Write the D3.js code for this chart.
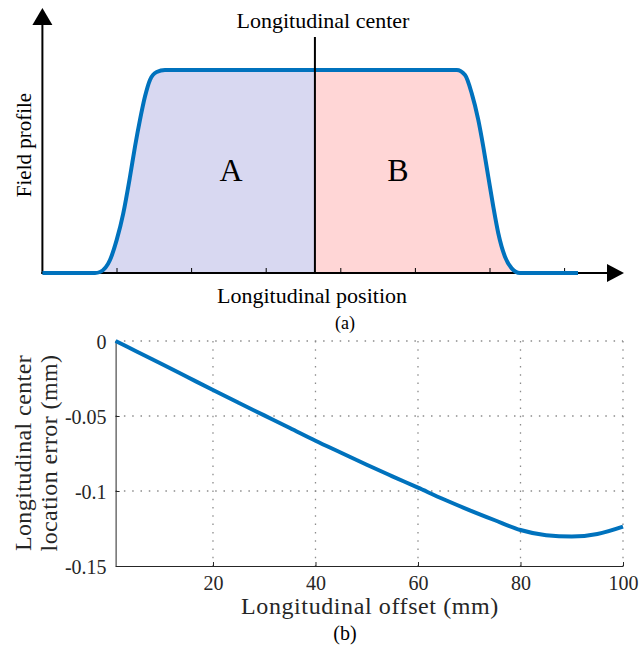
<!DOCTYPE html>
<html>
<head>
<meta charset="utf-8">
<script src="https://cdn.jsdelivr.net/npm/d3@7"></script>
<style>
  body { margin: 0; background: #fff; }
  svg { display: block; }
  text { font-family: "Liberation Serif", "Times New Roman", serif; }
</style>
</head>
<body>
<svg width="640" height="647"></svg>
<script>
// (a) schematic field profile, x in tick units, y normalised
const profileX = [0, 0.705, 0.772, 0.906, 0.996, 1.084, 1.174, 1.241, 1.308, 1.375, 1.442, 1.532, 1.643, 3.65,
    5.554, 5.665, 5.755, 5.843, 5.91, 5.977, 6.044, 6.111, 6.201, 6.291, 6.402, 7.18];
const profileY = [0, 0, 0.005, 0.064, 0.163, 0.294, 0.474, 0.622, 0.754, 0.869, 0.951, 0.99, 1.0, 1.0,
    1.0, 0.975, 0.885, 0.754, 0.622, 0.474, 0.327, 0.196, 0.08, 0.023, 0, 0];
const profileTicks = [1, 2, 3, 4, 5, 6, 7];
const centerPos = 3.653;
const regionLabels = ['A', 'B'];

// (b) longitudinal center location error vs offset
const offset = [1, 5, 10, 15, 20, 25, 30, 35, 40, 45, 50, 55, 60, 65, 70, 75, 80, 85, 90, 95, 100];
const error = [0, -0.0068, -0.0153, -0.024, -0.0327, -0.0412, -0.0496, -0.058, -0.0665, -0.0745, -0.0825,
    -0.0902, -0.0978, -0.1055, -0.1127, -0.1195, -0.126, -0.1295, -0.1304, -0.1287, -0.1238];
const xTicks = [20, 40, 60, 80, 100];
const yTicks = [0, -0.05, -0.1, -0.15];

const blue = '#0072BD';
const axisGray = '#262626';
const svg = d3.select('svg');

// ---------- panel (a) ----------
const ax = d3.scaleLinear().domain([0, 1]).range([42.4, 117]);
const ay = d3.scaleLinear().domain([0, 1]).range([273, 70]);
const prof = profileX.map((x, i) => ({x: x, y: profileY[i]}));

const defs = svg.append('defs');
defs.append('clipPath').attr('id', 'clipA')
    .append('rect').attr('x', 0).attr('y', 0).attr('width', ax(centerPos)).attr('height', 300);
defs.append('clipPath').attr('id', 'clipB')
    .append('rect').attr('x', ax(centerPos)).attr('y', 0).attr('width', 400).attr('height', 300);

const area = d3.area().x(d => ax(d.x)).y0(ay(0)).y1(d => ay(d.y)).curve(d3.curveMonotoneX);
const pline = d3.line().x(d => ax(d.x)).y(d => ay(d.y)).curve(d3.curveMonotoneX);

const ga = svg.append('g');
ga.append('path').datum(prof).attr('d', area).attr('fill', '#d8d8f1').attr('clip-path', 'url(#clipA)');
ga.append('path').datum(prof).attr('d', area).attr('fill', '#ffd6d6').attr('clip-path', 'url(#clipB)');

// axes with arrows
ga.append('line').attr('x1', ax(0)).attr('x2', ax(0)).attr('y1', ay(0) + 1).attr('y2', 24)
    .attr('stroke', '#000').attr('stroke-width', 2);
ga.append('path').attr('d', `M${ax(0) - 10},25 L${ax(0) + 10},25 L${ax(0)},8 Z`).attr('fill', '#000');
ga.append('line').attr('x1', ax(0) - 1).attr('x2', 608).attr('y1', ay(0)).attr('y2', ay(0))
    .attr('stroke', '#000').attr('stroke-width', 2);
ga.append('path').attr('d', `M607,${ay(0) - 9} L607,${ay(0) + 9} L624,${ay(0)} Z`).attr('fill', '#000');

ga.selectAll('line.tick').data(profileTicks).enter().append('line')
    .attr('class', 'tick')
    .attr('x1', d => ax(d)).attr('x2', d => ax(d))
    .attr('y1', ay(0)).attr('y2', ay(0) - 5)
    .attr('stroke', '#000').attr('stroke-width', 1);

ga.append('path').datum(prof).attr('d', pline)
    .attr('fill', 'none').attr('stroke', blue).attr('stroke-width', 4);

// longitudinal center line
ga.append('line').attr('x1', ax(centerPos)).attr('x2', ax(centerPos)).attr('y1', 37).attr('y2', ay(0))
    .attr('stroke', '#000').attr('stroke-width', 2);

ga.append('text').attr('x', 323).attr('y', 28).attr('text-anchor', 'middle')
    .style('font-size', '22px').text('Longitudinal center');
ga.append('text').attr('x', 312).attr('y', 303).attr('text-anchor', 'middle')
    .style('font-size', '22px').text('Longitudinal position');
ga.append('text').attr('transform', 'translate(31,145) rotate(-90)').attr('text-anchor', 'middle')
    .style('font-size', '21px').text('Field profile');
ga.selectAll('text.region').data(regionLabels).enter().append('text')
    .attr('class', 'region')
    .attr('x', (d, i) => i === 0 ? 231 : 398).attr('y', 181)
    .attr('text-anchor', 'middle').style('font-size', '32px').text(d => d);
ga.append('text').attr('x', 345).attr('y', 329).attr('text-anchor', 'middle')
    .style('font-size', '18px').text('(a)');

// ---------- panel (b) ----------
const bx = d3.scaleLinear().domain([1, 100]).range([115.6, 623]);
const by = d3.scaleLinear().domain([-0.15, 0]).range([566, 341]);
const gb = svg.append('g');

// dotted grid
gb.selectAll('line.vgrid').data(xTicks).enter().append('line')
    .attr('x1', d => bx(d)).attr('x2', d => bx(d)).attr('y1', by(0)).attr('y2', by(-0.15))
    .attr('stroke', '#8c8c8c').attr('stroke-width', 1.3).attr('stroke-dasharray', '1.5,6.8');
gb.selectAll('line.hgrid').data(yTicks.slice(0, 3)).enter().append('line')
    .attr('x1', bx(1)).attr('x2', bx(100)).attr('y1', d => by(d)).attr('y2', d => by(d))
    .attr('stroke', '#8c8c8c').attr('stroke-width', 1.3).attr('stroke-dasharray', '1.5,6.8');

const xAxis = d3.axisBottom(bx).tickValues(xTicks).tickSizeInner(-4).tickSizeOuter(0).tickPadding(10)
    .tickFormat(d3.format('d'));
const yAxis = d3.axisLeft(by).tickValues(yTicks).tickSizeInner(-4).tickSizeOuter(0).tickPadding(9)
    .tickFormat(d => d === 0 ? '0' : String(d));

gb.append('g').attr('transform', `translate(0,${by(-0.15)})`).call(xAxis)
    .attr('font-family', null)
    .call(g => g.select('.domain').attr('stroke', axisGray))
    .call(g => g.selectAll('.tick line').attr('stroke', axisGray))
    .call(g => g.selectAll('text').attr('fill', axisGray).style('font-size', '20px'));
gb.append('g').attr('transform', `translate(${bx(1)},0)`).call(yAxis)
    .attr('font-family', null)
    .call(g => g.select('.domain').attr('stroke', axisGray))
    .call(g => g.selectAll('.tick line').attr('stroke', axisGray))
    .call(g => g.selectAll('text').attr('fill', axisGray).attr('dy', '0.35em').style('font-size', '20px'));

gb.append('path').datum(offset.map((x, i) => ({x: x, y: error[i]})))
    .attr('d', d3.line().x(d => bx(d.x)).y(d => by(d.y)).curve(d3.curveMonotoneX))
    .attr('fill', 'none').attr('stroke', blue).attr('stroke-width', 4);

gb.append('text').attr('x', 370).attr('y', 614).attr('text-anchor', 'middle')
    .attr('fill', axisGray).style('font-size', '24px').style('letter-spacing', '0.6px')
    .text('Longitudinal offset (mm)');
gb.append('text').attr('transform', 'translate(31,453) rotate(-90)').attr('text-anchor', 'middle')
    .attr('fill', axisGray).style('font-size', '24px').style('letter-spacing', '0.4px')
    .text('Longitudinal center');
gb.append('text').attr('transform', 'translate(57,453) rotate(-90)').attr('text-anchor', 'middle')
    .attr('fill', axisGray).style('font-size', '24px').style('letter-spacing', '0.4px')
    .text('location error (mm)');
gb.append('text').attr('x', 345).attr('y', 640).attr('text-anchor', 'middle')
    .style('font-size', '20px').text('(b)');
</script>
</body>
</html>
